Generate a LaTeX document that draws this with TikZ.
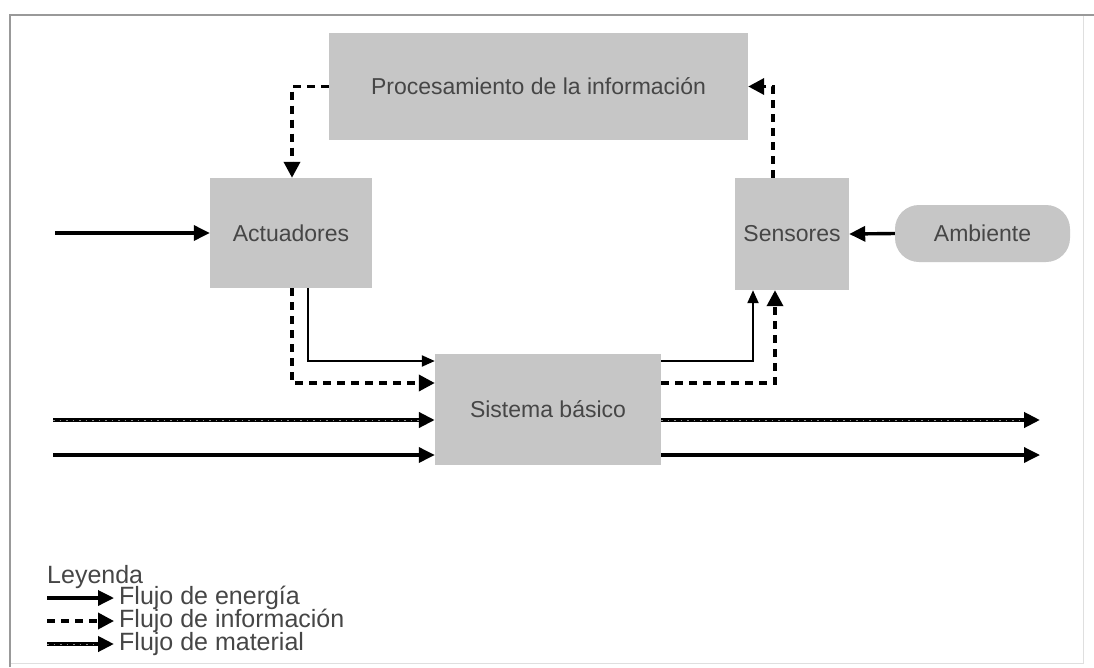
\documentclass[tikz,border=0pt]{standalone}
\usepackage{fontspec}
\setmainfont{Liberation Sans}
\usetikzlibrary{arrows.meta}
\definecolor{boxgray}{RGB}{198,198,198}
\definecolor{txtgray}{RGB}{70,70,70}
\begin{document}
\begin{tikzpicture}[x=1pt,y=-1pt,
  blk/.style={rectangle, fill=boxgray, draw=none, inner sep=0pt, text=txtgray, font=\fontsize{23}{26}\selectfont},
  energy/.style={line width=3.4pt, -{Triangle[length=16pt,width=15pt]}},
  thinenergy/.style={line width=2.2pt, -{Triangle[length=13pt,width=11pt]}},
  info/.style={line width=3.6pt, dash pattern=on 8pt off 6pt, -{Triangle[length=16pt,width=16pt]}},
  material/.style={line width=4.4pt, -{Triangle[length=16pt,width=15pt]},
     postaction={draw, -, line width=0.4pt, black!45, dash pattern=on 1.5pt off 5pt, shorten >=16pt}},
  legtxt/.style={anchor=west, inner sep=0pt, text=txtgray, font=\fontsize{25}{27}\selectfont}]
\useasboundingbox (0,0) rectangle (1094,667);
\fill[white] (0,0) rectangle (1094,667);
% frame
\draw[gray!25, line width=1pt] (1083,15) -- (1083,663) -- (10,663);
\draw[gray!80, line width=1.6pt] (10,667) -- (10,15) -- (1094,15);

% blocks
\node[blk, minimum width=419pt, minimum height=107pt] (proc) at (538.5,86.5) {Procesamiento de la información};
\node[blk, minimum width=162pt, minimum height=110pt] (act) at (291,233) {Actuadores};
\node[blk, minimum width=114pt, minimum height=112pt] (sens) at (792,234) {Sensores};
\node[blk, minimum width=175pt, minimum height=57pt, rounded corners=24pt] (amb) at (982.5,233.5) {Ambiente};
\node[blk, minimum width=226pt, minimum height=111pt] (sis) at (548,409) {Sistema básico};

% free ends
\coordinate (inA) at (55,233);
\coordinate (inM) at (53,420);
\coordinate (inE) at (53,455);
\coordinate (outM) at (1040,420);
\coordinate (outE) at (1040,455);

% connectors
\draw[energy] (inA) -- (act.west);
\draw[energy] (amb.west) -- (sens.east);
\draw[info] (proc.west) -| ([xshift=1pt]act.north);
\draw[info] ([xshift=-19pt]sens.north) |- (proc.east);
\draw[info] ([xshift=1pt]act.south) |- ([yshift=26pt]sis.west);
\draw[thinenergy] ([xshift=17pt]act.south) |- ([yshift=48pt]sis.west);
\draw[thinenergy] ([yshift=48pt]sis.east) -| ([xshift=-39pt]sens.south);
\draw[info] ([yshift=26pt]sis.east) -| ([xshift=-17pt]sens.south);
\draw[material] (inM) -- (inM -| sis.west);
\draw[material] (outM -| sis.east) -- (outM);
\draw[energy] (inE) -- (inE -| sis.west);
\draw[energy] (outE -| sis.east) -- (outE);

% legend
\node[legtxt] (leg) at (47,577) {Leyenda};
\coordinate (l1a) at (47,598); \coordinate (l1b) at (114,598);
\coordinate (l2a) at (47,621); \coordinate (l2b) at (114,621);
\coordinate (l3a) at (47,644); \coordinate (l3b) at (114,644);
\draw[energy] (l1a) -- (l1b);
\draw[info] (l2a) -- (l2b);
\draw[material] (l3a) -- (l3b);
\node[legtxt] (t1) at (119,598) {Flujo de energía};
\node[legtxt] (t2) at (119,621) {Flujo de información};
\node[legtxt] (t3) at (119,644) {Flujo de material};
\end{tikzpicture}
\end{document}
